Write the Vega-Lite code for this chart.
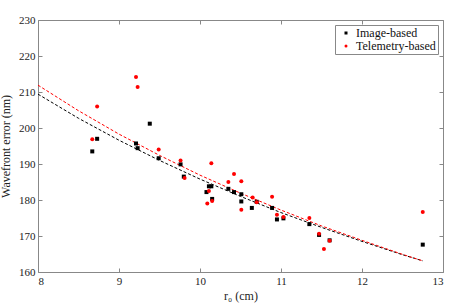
{
  "$schema": "https://vega.github.io/schema/vega-lite/v6.json",
  "width": 405,
  "height": 252,
  "autosize": {"type": "none"},
  "padding": {"left": 38, "top": 20, "right": 20, "bottom": 32},
  "background": "white",
  "config": {
    "font": "Liberation Serif",
    "view": {"stroke": "#888888", "strokeWidth": 1},
    "axis": {
      "labelFont": "Liberation Serif",
      "titleFont": "Liberation Serif",
      "labelFontSize": 11,
      "titleFontSize": 12,
      "titleFontWeight": "normal",
      "labelColor": "#222222",
      "titleColor": "#222222",
      "domain": false,
      "grid": false,
      "tickColor": "#888888",
      "tickSize": -4,
      "labelPadding": 7
    }
  },
  "datasets": {
    "pts": [
      {"series": "Image-based", "r0": 8.67, "wfe": 193.5},
      {"series": "Image-based", "r0": 8.73, "wfe": 197.0},
      {"series": "Image-based", "r0": 9.21, "wfe": 195.7},
      {"series": "Image-based", "r0": 9.23, "wfe": 194.4},
      {"series": "Image-based", "r0": 9.38, "wfe": 201.2},
      {"series": "Image-based", "r0": 9.49, "wfe": 191.6},
      {"series": "Image-based", "r0": 9.76, "wfe": 189.9},
      {"series": "Image-based", "r0": 9.80, "wfe": 186.5},
      {"series": "Image-based", "r0": 10.08, "wfe": 182.2},
      {"series": "Image-based", "r0": 10.11, "wfe": 183.8},
      {"series": "Image-based", "r0": 10.14, "wfe": 183.8},
      {"series": "Image-based", "r0": 10.15, "wfe": 180.3},
      {"series": "Image-based", "r0": 10.35, "wfe": 183.1},
      {"series": "Image-based", "r0": 10.42, "wfe": 182.2},
      {"series": "Image-based", "r0": 10.51, "wfe": 181.6},
      {"series": "Image-based", "r0": 10.51, "wfe": 179.6},
      {"series": "Image-based", "r0": 10.64, "wfe": 177.8},
      {"series": "Image-based", "r0": 10.70, "wfe": 179.5},
      {"series": "Image-based", "r0": 10.89, "wfe": 177.8},
      {"series": "Image-based", "r0": 10.95, "wfe": 174.6},
      {"series": "Image-based", "r0": 11.03, "wfe": 174.9},
      {"series": "Image-based", "r0": 11.35, "wfe": 173.3},
      {"series": "Image-based", "r0": 11.47, "wfe": 170.3},
      {"series": "Image-based", "r0": 11.60, "wfe": 168.8},
      {"series": "Image-based", "r0": 12.75, "wfe": 167.6},
      {"series": "Telemetry-based", "r0": 8.67, "wfe": 196.9},
      {"series": "Telemetry-based", "r0": 8.73, "wfe": 206.0},
      {"series": "Telemetry-based", "r0": 9.21, "wfe": 214.2},
      {"series": "Telemetry-based", "r0": 9.23, "wfe": 211.4},
      {"series": "Telemetry-based", "r0": 9.49, "wfe": 194.0},
      {"series": "Telemetry-based", "r0": 9.76, "wfe": 191.0},
      {"series": "Telemetry-based", "r0": 9.81, "wfe": 186.1},
      {"series": "Telemetry-based", "r0": 10.09, "wfe": 179.0},
      {"series": "Telemetry-based", "r0": 10.11, "wfe": 182.5},
      {"series": "Telemetry-based", "r0": 10.14, "wfe": 190.2},
      {"series": "Telemetry-based", "r0": 10.15, "wfe": 179.7},
      {"series": "Telemetry-based", "r0": 10.35, "wfe": 185.0},
      {"series": "Telemetry-based", "r0": 10.42, "wfe": 187.2},
      {"series": "Telemetry-based", "r0": 10.51, "wfe": 185.2},
      {"series": "Telemetry-based", "r0": 10.51, "wfe": 177.3},
      {"series": "Telemetry-based", "r0": 10.65, "wfe": 180.7},
      {"series": "Telemetry-based", "r0": 10.70, "wfe": 179.4},
      {"series": "Telemetry-based", "r0": 10.89, "wfe": 180.9},
      {"series": "Telemetry-based", "r0": 10.95, "wfe": 175.9},
      {"series": "Telemetry-based", "r0": 11.03, "wfe": 175.3},
      {"series": "Telemetry-based", "r0": 11.35, "wfe": 175.0},
      {"series": "Telemetry-based", "r0": 11.47, "wfe": 170.6},
      {"series": "Telemetry-based", "r0": 11.53, "wfe": 166.4},
      {"series": "Telemetry-based", "r0": 11.60, "wfe": 168.7},
      {"series": "Telemetry-based", "r0": 12.75, "wfe": 176.7}
    ],
    "fit": [
      {"model": "Image fit", "r0": 8.0, "wfe": 209.4},
      {"model": "Image fit", "r0": 8.5, "wfe": 202.7},
      {"model": "Image fit", "r0": 9.0, "wfe": 196.6},
      {"model": "Image fit", "r0": 9.5, "wfe": 191.0},
      {"model": "Image fit", "r0": 10.0, "wfe": 185.8},
      {"model": "Image fit", "r0": 10.5, "wfe": 181.0},
      {"model": "Image fit", "r0": 11.0, "wfe": 176.5},
      {"model": "Image fit", "r0": 11.5, "wfe": 172.4},
      {"model": "Image fit", "r0": 12.0, "wfe": 168.5},
      {"model": "Image fit", "r0": 12.5, "wfe": 164.8},
      {"model": "Image fit", "r0": 12.75, "wfe": 163.1},
      {"model": "Telemetry fit", "r0": 8.0, "wfe": 211.9},
      {"model": "Telemetry fit", "r0": 8.5, "wfe": 204.8},
      {"model": "Telemetry fit", "r0": 9.0, "wfe": 198.3},
      {"model": "Telemetry fit", "r0": 9.5, "wfe": 192.4},
      {"model": "Telemetry fit", "r0": 10.0, "wfe": 186.9},
      {"model": "Telemetry fit", "r0": 10.5, "wfe": 181.9},
      {"model": "Telemetry fit", "r0": 11.0, "wfe": 177.2},
      {"model": "Telemetry fit", "r0": 11.5, "wfe": 172.8},
      {"model": "Telemetry fit", "r0": 12.0, "wfe": 168.8},
      {"model": "Telemetry fit", "r0": 12.5, "wfe": 164.9},
      {"model": "Telemetry fit", "r0": 12.75, "wfe": 163.1}
    ]
  },
  "resolve": {"axis": {"x": "independent", "y": "independent"}},
  "layer": [
    {
      "data": {"name": "fit"},
      "mark": {"type": "line", "strokeDash": [3, 2], "strokeWidth": 1},
      "encoding": {
        "x": {"field": "r0", "type": "quantitative", "scale": {"domain": [8, 13], "nice": false}, "axis": {"orient": "top", "labels": false, "title": null, "values": [8, 9, 10, 11, 12, 13]}},
        "y": {"field": "wfe", "type": "quantitative", "scale": {"domain": [160, 230], "nice": false, "zero": false}, "axis": {"orient": "right", "labels": false, "title": null, "values": [160, 170, 180, 190, 200, 210, 220, 230]}},
        "stroke": {"field": "model", "type": "nominal", "scale": {"domain": ["Image fit", "Telemetry fit"], "range": ["#000000", "#ff0000"]}, "legend": null},
        "detail": {"field": "model"}
      }
    },
    {
      "data": {"name": "pts"},
      "mark": {"type": "point", "filled": true, "opacity": 1, "size": 16},
      "encoding": {
        "x": {"field": "r0", "type": "quantitative", "scale": {"domain": [8, 13], "nice": false}, "axis": {"orient": "bottom", "title": "r₀ (cm)", "values": [8, 9, 10, 11, 12, 13], "titlePadding": 4}},
        "y": {"field": "wfe", "type": "quantitative", "scale": {"domain": [160, 230], "nice": false, "zero": false}, "axis": {"orient": "left", "title": "Wavefront error (nm)", "values": [160, 170, 180, 190, 200, 210, 220, 230], "titlePadding": 6}},
        "color": {"field": "series", "type": "nominal", "scale": {"domain": ["Image-based", "Telemetry-based"], "range": ["#000000", "#ff0000"]},
          "legend": {"title": null, "orient": "top-right", "offset": 5, "fillColor": "white", "strokeColor": "#888888", "padding": 2, "labelFont": "Liberation Serif", "labelFontSize": 12, "labelColor": "#111111", "symbolSize": 9, "rowPadding": 1, "symbolOffset": 3, "labelOffset": 4}},
        "shape": {"field": "series", "type": "nominal", "scale": {"domain": ["Image-based", "Telemetry-based"], "range": ["square", "circle"]}}
      }
    }
  ]
}
